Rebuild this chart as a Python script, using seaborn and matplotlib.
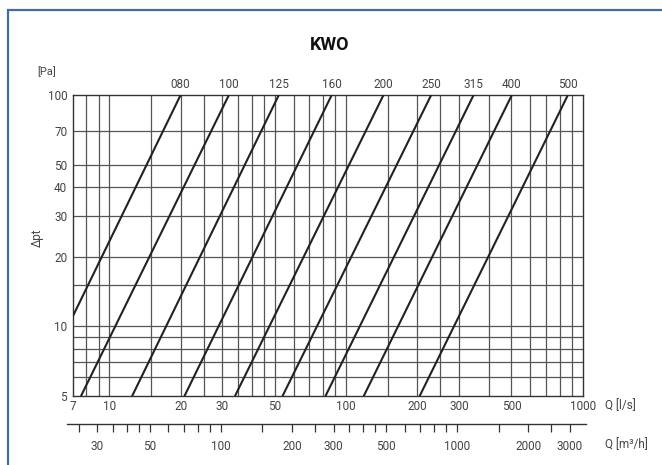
import numpy as np
import pandas as pd
import matplotlib
matplotlib.use("Agg")
import matplotlib.pyplot as plt
import matplotlib.ticker as mticker
from matplotlib.patches import Rectangle
import seaborn as sns

# -------------------------------------------------
# Data
# -------------------------------------------------

sizes = ["080", "100", "125", "160", "200", "250", "315", "400", "500"]

# each line: upper end at 100 Pa, lower end at 5 Pa (080 leaves at the left edge)
q_top = [20, 32, 52, 87, 144, 229, 346, 502, 866]
dp_top = [100, 100, 100, 100, 100, 100, 100, 100, 100]
q_low = [7, 7.6, 12.5, 20.8, 34, 54, 82, 119, 205]
dp_low = [11, 5, 5, 5, 5, 5, 5, 5, 5]

x_grid = [8, 9, 10, 15, 20, 25, 30, 35, 40, 45, 50, 60, 70, 80, 90, 100,
          150, 200, 250, 300, 400, 500, 600, 700, 800, 900]
y_grid = [6, 7, 8, 9, 10, 15, 20, 30, 40, 50, 70]

x_labels = [7, 10, 20, 30, 50, 100, 200, 300, 500, 1000]
y_labels = [5, 10, 20, 30, 40, 50, 70, 100]

m3h_ticks = [25, 30, 35, 40, 45, 50, 60, 70, 80, 90, 100, 150, 200, 250,
             300, 350, 400, 450, 500, 600, 700, 800, 900, 1000, 1500, 2000,
             2500, 3000]
m3h_labels = [30, 50, 100, 200, 300, 500, 1000, 2000, 3000]

rows = []
for s, q1, p1, q0, p0 in zip(sizes, q_top, dp_top, q_low, dp_low):
    rows.append({"size": s, "Q": q0, "dp": p0})
    rows.append({"size": s, "Q": q1, "dp": p1})
df = pd.DataFrame(rows)

# -------------------------------------------------
# Figure
# -------------------------------------------------

sns.set_theme(style="white")
plt.rcParams["font.family"] = ["Roboto", "DejaVu Sans"]

W, H = 662, 465
fig = plt.figure(figsize=(W / 100, H / 100), dpi=100)

txt = "#444444"
grid_c = "#555555"

ax = fig.add_axes([72.7 / W, 1 - 395.7 / H, 510 / W, 300.7 / H])
ax.set_xscale("log")
ax.set_yscale("log")
ax.set_xlim(7, 1000)
ax.set_ylim(5, 100)

for x in x_grid:
    ax.axvline(x, color=grid_c, lw=0.9, zorder=1)
for y in y_grid:
    ax.axhline(y, color=grid_c, lw=0.9, zorder=1)

sns.lineplot(data=df, x="Q", y="dp", units="size", estimator=None,
             color="#222222", lw=1.5, ax=ax, zorder=3, legend=False)

for s, q1 in zip(sizes, q_top):
    ax.annotate(s, (q1, 100), xytext=(0, 3), textcoords="offset points",
                ha="center", va="bottom", fontsize=8.5, color=txt)

ax.xaxis.set_major_locator(mticker.FixedLocator(x_labels))
ax.xaxis.set_major_formatter(mticker.FixedFormatter([str(v) for v in x_labels]))
ax.xaxis.set_minor_locator(mticker.NullLocator())
ax.yaxis.set_major_locator(mticker.FixedLocator(y_labels))
ax.yaxis.set_major_formatter(mticker.FixedFormatter([str(v) for v in y_labels]))
ax.yaxis.set_minor_locator(mticker.NullLocator())
ax.tick_params(axis="both", length=0, labelsize=8.5, labelcolor=txt)
ax.tick_params(axis="x", pad=3)
ax.tick_params(axis="y", pad=4)
ax.set_xlabel("")
ax.set_ylabel("")
for sp in ax.spines.values():
    sp.set_color("#333333")
    sp.set_linewidth(1.0)

# second flow axis in m3/h
ax2 = fig.add_axes([67 / W, 1 - 424 / H, 519 / W, 0.0001])
ax2.set_xscale("log")
ax2.set_xlim(22.3, 3520)
ax2.set_yticks([])
for side in ["left", "right", "top"]:
    ax2.spines[side].set_visible(False)
ax2.spines["bottom"].set_color("#333333")
ax2.spines["bottom"].set_linewidth(1.0)
ax2.xaxis.set_major_locator(mticker.FixedLocator(m3h_ticks))
ax2.xaxis.set_major_formatter(mticker.FixedFormatter(
    [str(v) if v in m3h_labels else "" for v in m3h_ticks]))
ax2.xaxis.set_minor_locator(mticker.NullLocator())
ax2.tick_params(axis="x", bottom=True, direction="out", length=5.8,
                width=0.9, color="#333333", labelsize=8.5, labelcolor=txt,
                pad=6)
ax2.patch.set_alpha(0)

# texts around the chart
fig.text(0.498, 1 - 45 / H, "KWO", ha="center", va="center",
         fontsize=13, fontweight="bold", color="#111111")
fig.text(47 / W, 1 - 72 / H, "[Pa]", ha="center", va="center",
         fontsize=8, color=txt)
fig.text(37 / W, 1 - 238 / H, "Δpt", ha="center", va="center",
         rotation=90, fontsize=8.5, color=txt)
fig.text(605 / W, 1 - 406 / H, "Q [l/s]", ha="left", va="center",
         fontsize=8.5, color=txt)
fig.text(605 / W, 1 - 445 / H, "Q [m³/h]", ha="left", va="center",
         fontsize=8.5, color=txt)

# blue frame
fig.patches.append(Rectangle((8 / W, -0.5), 2, 1 - 10 / H + 0.5,
                             transform=fig.transFigure, fill=False,
                             edgecolor="#3f6fa2", lw=1.6))

fig.savefig("out.png", dpi=100)
